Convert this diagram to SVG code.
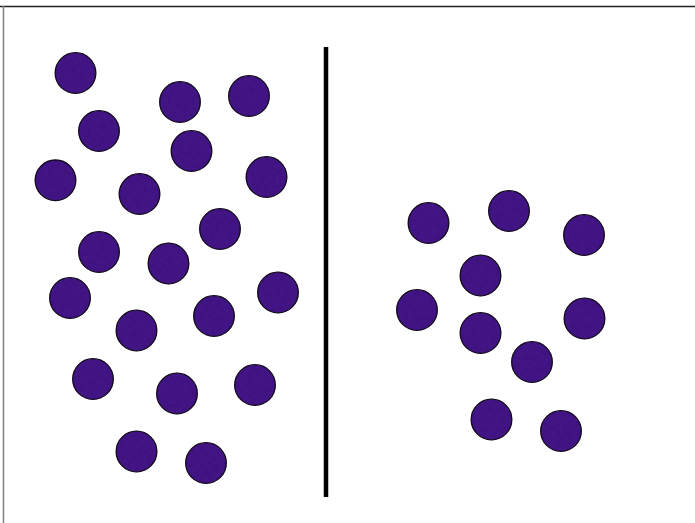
<svg xmlns="http://www.w3.org/2000/svg" width="695" height="523" viewBox="0 0 695 523">
<style>
.b{fill:#44168a;stroke:#0a0a0a;stroke-width:1.3}
</style>
<defs>
<filter id="tex" x="-10%" y="-10%" width="120%" height="120%" color-interpolation-filters="sRGB">
<feTurbulence type="fractalNoise" baseFrequency="0.25" numOctaves="2" seed="3" result="n"/>
<feColorMatrix in="n" type="matrix" values="0 0 0 0 0.22  0 0 0 0 0.05  0 0 0 0 0.42  0 0 0 0.6 -0.1" result="c"/>
<feComposite in="c" in2="SourceGraphic" operator="in" result="m"/>
<feMerge><feMergeNode in="SourceGraphic"/><feMergeNode in="m"/></feMerge>
</filter>
<circle id="c" r="20.3" class="b"/>
</defs>
<rect width="695" height="523" fill="#fff"/>
<line x1="0" y1="6.5" x2="695" y2="6.5" stroke="#222" stroke-width="1.3"/>
<line x1="3.5" y1="6" x2="3.5" y2="523" stroke="#808080" stroke-width="1.5"/>
<line x1="326" y1="47" x2="326" y2="497" stroke="#000" stroke-width="4.5"/>
<g id="left" filter="url(#tex)">
<use href="#c" x="75.5" y="73"/>
<use href="#c" x="180" y="102"/>
<use href="#c" x="249" y="96"/>
<use href="#c" x="99" y="131"/>
<use href="#c" x="191.5" y="151"/>
<use href="#c" x="55.5" y="180.3"/>
<use href="#c" x="139.5" y="194"/>
<use href="#c" x="266.5" y="177"/>
<use href="#c" x="220" y="229"/>
<use href="#c" x="99" y="252"/>
<use href="#c" x="168.5" y="263.5"/>
<use href="#c" x="70" y="298"/>
<use href="#c" x="278" y="292.5"/>
<use href="#c" x="136.5" y="330.5"/>
<use href="#c" x="214" y="316"/>
<use href="#c" x="93" y="379"/>
<use href="#c" x="177" y="393.5"/>
<use href="#c" x="255" y="385"/>
<use href="#c" x="136.5" y="451.5"/>
<use href="#c" x="206" y="463"/>
</g>
<g id="right" filter="url(#tex)">
<use href="#c" x="428.5" y="223"/>
<use href="#c" x="509" y="211"/>
<use href="#c" x="584" y="235"/>
<use href="#c" x="480.5" y="275.5"/>
<use href="#c" x="417" y="310"/>
<use href="#c" x="480.5" y="333"/>
<use href="#c" x="584.5" y="318.5"/>
<use href="#c" x="532" y="362"/>
<use href="#c" x="491.5" y="419.5"/>
<use href="#c" x="561" y="431"/>
</g>
</svg>
